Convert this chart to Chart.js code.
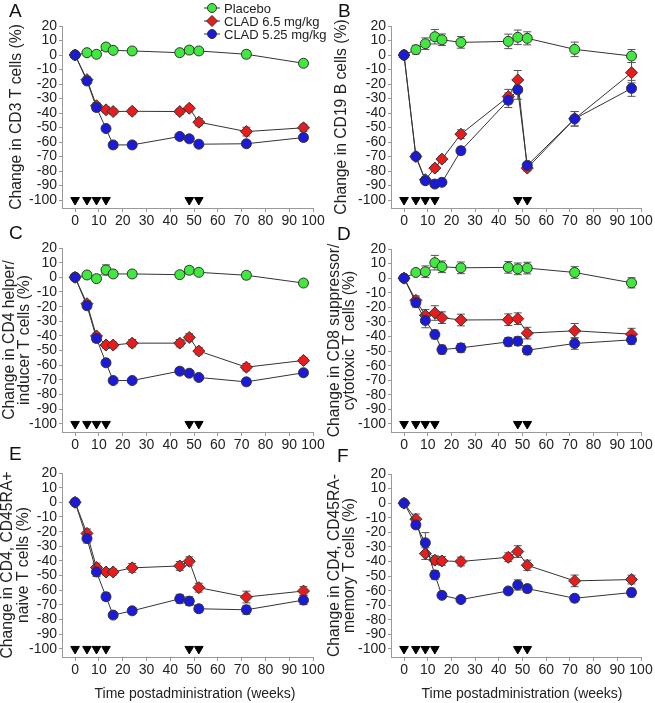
<!DOCTYPE html>
<html>
<head>
<meta charset="utf-8">
<script src="https://cdn.jsdelivr.net/npm/chart.js@4.4.0/dist/chart.umd.min.js"></script>
<style>
  body { margin: 0; background: #fff; width: 655px; height: 703px; position: relative; overflow: hidden;
         font-family: Arial, "Liberation Sans", sans-serif; }
  canvas { position: absolute; }
  .lab { position: absolute; font-size: 19px; line-height: 1; color: #111; }
  .xt { position: absolute; font-size: 14px; line-height: 16px; color: #222; width: 260px; text-align: center; }
</style>
</head>
<body>
<canvas id="pB" width="330" height="230" style="left:325px;top:0"></canvas>
<canvas id="pA" width="340" height="230" style="left:0;top:0"></canvas>
<canvas id="pC" width="330" height="230" style="left:0;top:230px"></canvas>
<canvas id="pD" width="330" height="230" style="left:325px;top:230px"></canvas>
<canvas id="pE" width="330" height="243" style="left:0;top:460px"></canvas>
<canvas id="pF" width="330" height="243" style="left:325px;top:460px"></canvas>
<div class="lab" style="left:9px;top:1px">A</div>
<div class="lab" style="left:338px;top:1px">B</div>
<div class="lab" style="left:9px;top:223px">C</div>
<div class="lab" style="left:337px;top:224px">D</div>
<div class="lab" style="left:9px;top:444px">E</div>
<div class="lab" style="left:337px;top:446px">F</div>
<div class="xt" style="left:65px;top:685px">Time postadministration (weeks)</div>
<div class="xt" style="left:392px;top:685px">Time postadministration (weeks)</div>
<script>
const weeks = [0, 5, 9, 13, 16, 24, 44, 48, 52, 72, 96];
const doseWeeks = [0, 5, 9, 13, 48, 52];
const xTicks = [0, 10, 20, 30, 40, 50, 60, 70, 80, 90, 100];
const yTicks = [-100, -90, -80, -70, -60, -50, -40, -30, -20, -10, 0, 10, 20];
const seriesNames = ["Placebo", "CLAD 6.5 mg/kg", "CLAD 5.25 mg/kg"];

// A: CD3 T cells
const cd3Placebo = [0, 1.6, 0.5, 5.5, 3.2, 2.8, 1.6, 3.4, 2.8, 0.5, -5.7];
const cd3PlaceboErr = [0, 1.5, 1.5, 2.5, 2, 2, 2, 2.5, 2, 2.5, 2];
const cd3High = [0, -17, -35, -37.8, -39, -38.8, -39, -36.7, -46.3, -52.8, -50.2];
const cd3HighErr = [0, 2, 2, 2, 2, 2, 2, 2, 2.5, 3, 2.5];
const cd3Low = [0, -17.9, -36.2, -50.7, -62, -62, -56.2, -57.8, -61.5, -61.2, -56.9];
const cd3LowErr = [0, 2, 2.5, 2, 2, 2, 2, 2, 2, 2, 2];

// B: CD19 B cells
const cd19Placebo = [0, 3.7, 7.8, 12.6, 10.5, 8.7, 9.4, 12.2, 11.5, 3.9, -0.7];
const cd19PlaceboErr = [0, 3, 4, 5, 4, 4, 5, 5, 4.5, 5, 4.5];
const cd19High = [0, -70, -86, -78, -71.8, -54.6, -28.7, -17.2, -78, -44, -12.2];
const cd19HighErr = [0, 2, 2, 2, 2, 3, 5, 6.5, 2, 5, 7];
const cd19Low = [0, -70, -86.7, -89, -87.8, -66, -31.2, -24, -76.1, -44, -23];
const cd19LowErr = [0, 2, 2, 2, 2, 2.5, 5, 6.5, 2, 5, 5.5];

// C: CD4 helper/inducer T cells
const cd4Placebo = [0, 1.6, -0.9, 5, 2.3, 2.3, 1.8, 4.8, 3.4, 1.4, -3.9];
const cd4PlaceboErr = [0, 2, 2, 3.5, 2, 2, 2, 2.5, 2, 2.5, 2];
const cd4High = [0, -18, -40, -46.2, -46.2, -44.9, -44.9, -41, -50.3, -61.3, -56.7];
const cd4HighErr = [0, 2, 2, 2, 2, 2.5, 2.5, 2.5, 2.5, 2.5, 2];
const cd4Low = [0, -19.4, -41.7, -58.3, -70.4, -70.4, -64, -65.4, -68.3, -71.3, -65.1];
const cd4LowErr = [0, 2, 2.5, 2, 2, 2, 2, 2, 2, 2, 2];

// D: CD8 suppressor/cytotoxic T cells
const cd8Placebo = [0, 3.9, 4.4, 10.6, 7.8, 7.1, 7.4, 6.4, 6.9, 3.9, -3.2];
const cd8PlaceboErr = [0, 2, 4, 5, 4, 4, 4, 4, 4, 4, 3.5];
const cd8High = [0, -15.2, -25.5, -23.9, -27.1, -28.7, -28.5, -27.8, -37.7, -36.1, -38.4];
const cd8HighErr = [0, 3, 4, 5, 4, 4, 4, 4, 4, 5, 4];
const cd8Low = [0, -16.8, -29, -38.6, -49, -47.8, -43.7, -43.2, -49.4, -44.8, -42.3];
const cd8LowErr = [0, 3, 5, 3, 3, 3, 3, 3, 3, 4, 3];

// E: CD4, CD45RA+ naive T cells
const naiveHigh = [0, -21.2, -44.5, -47.5, -47.5, -44.7, -43.4, -40.2, -58.2, -64.6, -60.5];
const naiveHighErr = [0, 3, 3, 2, 2, 3, 3, 3, 3, 4, 3];
const naiveLow = [0, -24.7, -47.5, -64.4, -76.9, -74, -65.8, -67.4, -72.6, -73.3, -66.7];
const naiveLowErr = [0, 3, 3, 2.5, 2, 2, 3, 3, 2.5, 3, 3];

// F: CD4, CD45RA- memory T cells
const memHigh = [0, -11, -34.6, -39.1, -39.6, -40, -37.1, -33.2, -42.6, -53.3, -52.4];
const memHighErr = [0, 3.5, 4, 3, 3, 3, 3, 4, 3.5, 4, 3];
const memLow = [0, -14.9, -27.2, -49.2, -63.2, -66.1, -60.2, -56.1, -58.6, -65.2, -61.3];
const memLowErr = [0, 2.5, 7, 3, 2, 2, 2, 3.5, 2.5, 2.5, 3];

const GREEN = "#40e840", RED = "#e81c1c", BLUE = "#1a1ad8", EDGE = "#333";
const FONT = { family: "Arial, 'Liberation Sans', sans-serif", size: 14 };
const TITLE_FONT = { family: "Arial, 'Liberation Sans', sans-serif", size: 15.7, lineHeight: 1 };

// error bars drawn through the chart scales
const errorBars = {
  id: "errorBars",
  beforeDatasetsDraw(chart) {
    const ctx = chart.ctx, xs = chart.scales.x, ys = chart.scales.y;
    ctx.save();
    ctx.strokeStyle = "#555";
    ctx.lineWidth = 1;
    chart.data.datasets.forEach(ds => {
      if (!ds.err) return;
      ds.data.forEach((p, i) => {
        const e = ds.err[i];
        if (!e) return;
        const x = xs.getPixelForValue(p.x);
        const y1 = ys.getPixelForValue(p.y + e), y2 = ys.getPixelForValue(p.y - e);
        ctx.beginPath();
        ctx.moveTo(x, y1); ctx.lineTo(x, y2);
        ctx.moveTo(x - 4, y1); ctx.lineTo(x + 4, y1);
        ctx.moveTo(x - 4, y2); ctx.lineTo(x + 4, y2);
        ctx.stroke();
      });
    });
    ctx.restore();
  }
};

// legend in the top right of panel A
const cornerLegend = {
  id: "cornerLegend",
  afterDraw(chart) {
    const ctx = chart.ctx;
    const styles = [["circle", GREEN, 4.5], ["rectRot", RED, 5.5], ["circle", BLUE, 4.5]];
    ctx.save();
    ctx.font = "13px Arial, 'Liberation Sans', sans-serif";
    ctx.textBaseline = "middle";
    seriesNames.forEach((name, i) => {
      const y = 8 + i * 13;
      ctx.strokeStyle = EDGE;
      ctx.lineWidth = 1;
      ctx.beginPath(); ctx.moveTo(204, y); ctx.lineTo(220, y); ctx.stroke();
      ctx.fillStyle = styles[i][1];
      Chart.helpers.drawPoint(ctx, { pointStyle: styles[i][0], radius: styles[i][2], rotation: 0, borderWidth: 1 }, 212, y);
      ctx.fillStyle = "#222";
      ctx.fillText(name, 224, y + 1);
    });
    ctx.restore();
  }
};

function pts(vals) {
  return vals.map((v, i) => ({ x: weeks[i], y: v }));
}

function series(vals, err, color, style, r) {
  return {
    data: pts(vals), err: err,
    borderColor: EDGE, borderWidth: 1,
    pointStyle: style, pointRadius: r,
    pointBackgroundColor: color, pointBorderColor: EDGE, pointBorderWidth: 1,
    showLine: true, tension: 0
  };
}

function makePanel(id, p) {
  const datasets = [];
  datasets.push(series(p.low, p.lowErr, BLUE, "circle", 5));
  datasets.push(series(p.high, p.highErr, RED, "rectRot", 6));
  if (p.placebo) datasets.push(series(p.placebo, p.placeboErr, GREEN, "circle", 5));
  datasets.push({
    data: doseWeeks.map(w => ({ x: w, y: -100 })),
    showLine: false, pointStyle: "triangle", rotation: 180, pointRadius: 5,
    pointBackgroundColor: "#000", pointBorderColor: "#000", pointBorderWidth: 1
  });

  new Chart(document.getElementById(id), {
    type: "scatter",
    data: { datasets: datasets },
    plugins: p.legend ? [errorBars, cornerLegend] : [errorBars],
    options: {
      responsive: false,
      animation: false,
      layout: { padding: { top: p.top, right: p.right, left: 0, bottom: 0 } },
      plugins: { legend: { display: false }, tooltip: { enabled: false } },
      scales: {
        x: {
          type: "linear", min: -5.5, max: 100,
          afterBuildTicks: s => { s.ticks = xTicks.map(v => ({ value: v })); },
          afterFit: s => { s.height = p.xH; },
          grid: { drawOnChartArea: false, tickLength: 4, color: "#999" },
          border: { color: "#999" },
          ticks: { font: FONT, color: "#222", padding: 1, maxRotation: 0, autoSkip: false }
        },
        y: {
          type: "linear", min: -105.5, max: 20,
          afterBuildTicks: s => { s.ticks = yTicks.map(v => ({ value: v })); },
          afterFit: s => { s.width = p.yW; },
          grid: { drawOnChartArea: false, tickLength: 3, color: "#999" },
          border: { color: "#999" },
          ticks: { font: FONT, color: "#222", padding: 2, autoSkip: false },
          title: { display: true, text: p.yTitle, font: TITLE_FONT, color: "#222",
                   padding: { top: p.titlePad, bottom: 0 } }
        }
      }
    }
  });
}

makePanel("pA", { placebo: cd3Placebo, placeboErr: cd3PlaceboErr, high: cd3High, highErr: cd3HighErr,
  low: cd3Low, lowErr: cd3LowErr, yTitle: "Change in CD3 T cells (%)",
  top: 26, right: 27, xH: 22, yW: 62, titlePad: 8.5, legend: true });
makePanel("pB", { placebo: cd19Placebo, placeboErr: cd19PlaceboErr, high: cd19High, highErr: cd19HighErr,
  low: cd19Low, lowErr: cd19LowErr, yTitle: "Change in CD19 B cells (%)",
  top: 26, right: 14, xH: 22, yW: 66, titlePad: 9 });
makePanel("pC", { placebo: cd4Placebo, placeboErr: cd4PlaceboErr, high: cd4High, highErr: cd4HighErr,
  low: cd4Low, lowErr: cd4LowErr, yTitle: ["Change in CD4 helper/", "inducer T cells (%)"],
  top: 18, right: 17, xH: 28, yW: 62, titlePad: 1.5 });
makePanel("pD", { placebo: cd8Placebo, placeboErr: cd8PlaceboErr, high: cd8High, highErr: cd8HighErr,
  low: cd8Low, lowErr: cd8LowErr, yTitle: ["Change in CD8 suppressor/", "cytotoxic T cells (%)"],
  top: 19, right: 14, xH: 28, yW: 66, titlePad: 1.5 });
makePanel("pE", { high: naiveHigh, highErr: naiveHighErr, low: naiveLow, lowErr: naiveLowErr,
  yTitle: ["Change in CD4, CD45RA+", "naive T cells (%)"],
  top: 13, right: 17, xH: 46, yW: 62, titlePad: 0 });
makePanel("pF", { high: memHigh, highErr: memHighErr, low: memLow, lowErr: memLowErr,
  yTitle: ["Change in CD4, CD45RA-", "memory T cells (%)"],
  top: 14, right: 14, xH: 46, yW: 66, titlePad: 1.5 });
</script>
</body>
</html>
